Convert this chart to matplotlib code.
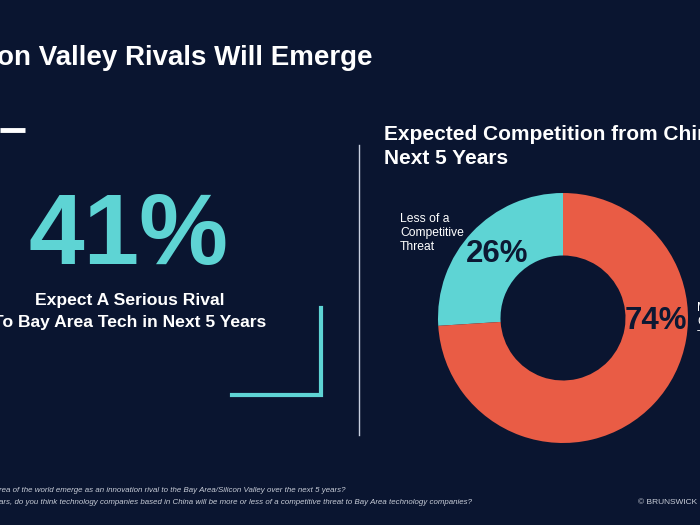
import matplotlib.pyplot as plt

# Datos
rival_pct = 41
threat_labels = ["Less of a\nCompetitive\nThreat", "More of a\nCompetitive\nThreat"]
threat_values = [26, 74]

bg = "#0a1530"
teal = "#5ed4d4"
red = "#e95c45"
navy = "#0c1833"

plt.rcParams["font.family"] = ["Liberation Sans", "DejaVu Sans"]

fig = plt.figure(figsize=(7, 5.25), dpi=100, facecolor=bg)

# Gráfico de dona (primero, para que las etiquetas queden encima)
ax2 = fig.add_axes([438 / 700, (525 - 443) / 525, 250 / 700, 250 / 525])
ax2.set_facecolor(bg)
ax2.pie(threat_values, colors=[teal, red], startangle=90, counterclock=True,
        radius=1, wedgeprops=dict(width=0.5, edgecolor="none"))
ax2.set_xlim(-1, 1)
ax2.set_ylim(-1, 1)
ax2.set_aspect("equal")
ax2.axis("off")

# Capa de textos en coordenadas de píxeles
ax = fig.add_axes([0, 0, 1, 1])
ax.set_xlim(0, 700)
ax.set_ylim(525, 0)
ax.axis("off")

# Título principal (recortado a la izquierda)
ax.text(373, 58, "Silicon Valley Rivals Will Emerge", color="white", fontsize=20,
        fontweight="bold", ha="right", va="center")

# Barra blanca superior izquierda
ax.plot([0, 25], [130, 130], color="white", lw=3.5, solid_capstyle="butt")

# Cifra grande
ax.text(129, 264, f"{rival_pct}%", color=teal, fontsize=72, fontweight="bold",
        ha="center", va="baseline")
ax.text(130, 301, "Expect A Serious Rival", color="white", fontsize=12.6,
        fontweight="bold", ha="center", va="center")
ax.text(130, 322, "To Bay Area Tech in Next 5 Years", color="white", fontsize=12.6,
        fontweight="bold", ha="center", va="center")

# Esquina turquesa
ax.plot([232, 321, 321], [395, 395, 308], color=teal, lw=3, solid_joinstyle="miter")

# Línea divisoria
ax.plot([359, 359], [145, 435], color="#c8d0e0", lw=1)

# Título del lado derecho
ax.text(384, 134, "Expected Competition from China in the", color="white",
        fontsize=15, fontweight="bold", ha="left", va="center")
ax.text(384, 159, "Next 5 Years", color="white", fontsize=15,
        fontweight="bold", ha="left", va="center")

# Etiquetas de las categorías
ax.text(400, 233, threat_labels[0], color="white", fontsize=8.7,
        ha="left", va="center", linespacing=1.25)
ax.text(697, 322, threat_labels[1], color="white", fontsize=8.7,
        ha="left", va="center", linespacing=1.25)

# Porcentajes sobre la dona
ax.text(497, 254, f"{threat_values[0]}%", color=navy, fontsize=22.5,
        fontweight="bold", ha="center", va="center")
ax.text(656, 321, f"{threat_values[1]}%", color=navy, fontsize=22.5,
        fontweight="bold", ha="center", va="center")

# Notas al pie
ax.text(345, 490, "Q: Will any other area of the world emerge as an innovation rival to the Bay Area/Silicon Valley over the next 5 years?",
        color="#c8cdd8", fontsize=5.7, style="italic", ha="right", va="center")
ax.text(472, 502, "Q: In the next 5 years, do you think technology companies based in China will be more or less of a competitive threat to Bay Area technology companies?",
        color="#c8cdd8", fontsize=5.7, style="italic", ha="right", va="center")
ax.text(697, 502, "© BRUNSWICK", color="#c8cdd8", fontsize=6,
        ha="right", va="center")

fig.savefig("out.png", dpi=100, facecolor=bg)
